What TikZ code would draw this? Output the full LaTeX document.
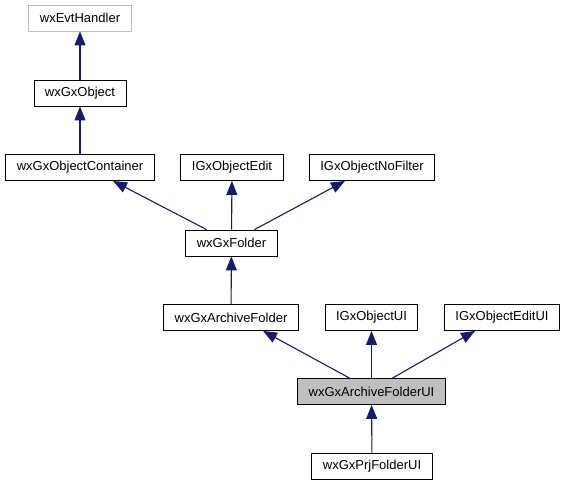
\documentclass[tikz,border=0pt]{standalone}
\usepackage{fontspec}
\setmainfont{Liberation Sans}
\usetikzlibrary{arrows.meta}
\definecolor{edgeblue}{HTML}{191970}
\definecolor{boxgray}{HTML}{BFBFBF}
\tikzset{
  cls/.style={draw=black, line width=0.9pt, fill=white, inner xsep=11pt, inner ysep=0pt,
    minimum height=26pt, font=\fontsize{13}{15}\selectfont},
  edge/.style={draw=edgeblue, line width=1.1pt, -{Triangle[width=11pt,length=14pt]}}
}
\begin{document}
\begin{tikzpicture}[x=1pt, y=-1pt]
  \useasboundingbox (0,0) rectangle (567,485);
  % classes
  \node[cls, draw=boxgray] (evt) at (80,18) {wxEvtHandler};
  \node[cls] (obj) at (80,93) {wxGxObject};
  \node[cls] (cont) at (80,167.5) {wxGxObjectContainer};
  \node[cls] (edit) at (232,167.5) {IGxObjectEdit};
  \node[cls] (nofilt) at (372,167.5) {IGxObjectNoFilter};
  \node[cls] (fold) at (231.5,243) {wxGxFolder};
  \node[cls] (arch) at (231,317.5) {wxGxArchiveFolder};
  \node[cls] (objui) at (371.5,317.5) {IGxObjectUI};
  \node[cls] (editui) at (502,317.5) {IGxObjectEditUI};
  \node[cls, fill=boxgray] (archui) at (371.5,391.5) {wxGxArchiveFolderUI};
  \node[cls] (prj) at (372,466) {wxGxPrjFolderUI};
  % inheritance
  \draw[edge] (obj) -- (evt);
  \draw[edge] (cont) -- (obj);
  \draw[edge] ([xshift=-25pt]fold.north) -- ([xshift=33pt]cont.south);
  \draw[edge] (fold) -- (edit);
  \draw[edge] ([xshift=23pt]fold.north) -- ([xshift=-27pt]nofilt.south);
  \draw[edge] (arch) -- (fold);
  \draw[edge] ([xshift=-22pt]archui.north) -- ([xshift=32pt]arch.south);
  \draw[edge] (archui) -- (objui);
  \draw[edge] ([xshift=21pt]archui.north) -- ([xshift=-27pt]editui.south);
  \draw[edge] (prj) -- (archui);
\end{tikzpicture}
\end{document}
